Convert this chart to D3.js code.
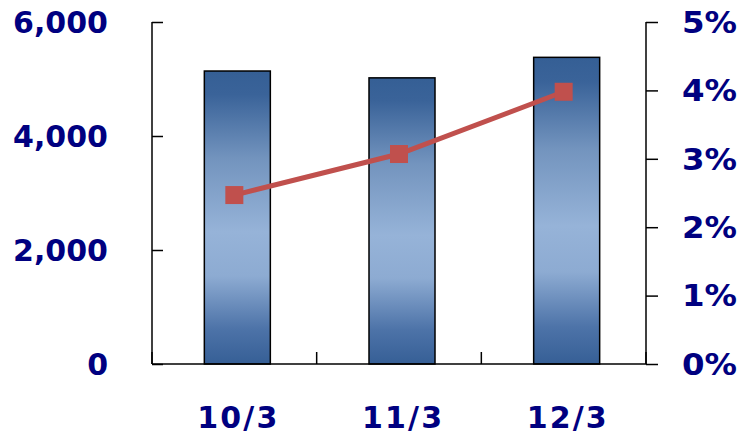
<!DOCTYPE html>
<html><head><meta charset="utf-8">
<script src="https://cdn.jsdelivr.net/npm/d3@7"></script>
<style>body{margin:0;background:#fff;}svg{display:block;}</style>
</head><body>
<script>
const categories = ["10/3", "11/3", "12/3"];
const barValues = [5140, 5020, 5380];
const lineValues = [2.47, 3.07, 3.98];
const leftTicks = [0, 2000, 4000, 6000];
const rightTicks = [0, 1, 2, 3, 4, 5];

const W = 742, H = 435;
const plotLeft = 152, plotRight = 646, plotTop = 22, plotBottom = 364;
const navy = "#000080";
const font = "'DejaVu Sans', Verdana, sans-serif";

const svg = d3.select("body").append("svg").attr("width", W).attr("height", H);

const x = d3.scaleBand().domain(categories).range([plotLeft, plotRight]).padding(0);
const yL = d3.scaleLinear().domain([0, 6000]).range([plotBottom, plotTop]);
const yR = d3.scaleLinear().domain([0, 5]).range([plotBottom, plotTop]);

const defs = svg.append("defs");
const g = defs.append("linearGradient").attr("id", "barGrad").attr("x1", 0).attr("y1", 0).attr("x2", 0).attr("y2", 1);
g.append("stop").attr("offset", "0%").attr("stop-color", "#355F95");
g.append("stop").attr("offset", "8%").attr("stop-color", "#3A6399");
g.append("stop").attr("offset", "30%").attr("stop-color", "#7394BE");
g.append("stop").attr("offset", "55%").attr("stop-color", "#96B3D8");
g.append("stop").attr("offset", "70%").attr("stop-color", "#8DABD2");
g.append("stop").attr("offset", "88%").attr("stop-color", "#4D73A8");
g.append("stop").attr("offset", "100%").attr("stop-color", "#365F96");

const barW = 66, barShift = 3;
svg.selectAll("rect.bar").data(categories).enter().append("rect")
  .attr("class", "bar")
  .attr("x", (d) => x(d) + x.bandwidth() / 2 - barW / 2 + barShift)
  .attr("y", (d, i) => yL(barValues[i]))
  .attr("width", barW)
  .attr("height", (d, i) => plotBottom - yL(barValues[i]))
  .attr("fill", "url(#barGrad)")
  .attr("stroke", "#000")
  .attr("stroke-width", 1.5);

// Left axis
const axL = svg.append("g").attr("transform", `translate(${plotLeft},0)`)
  .call(d3.axisRight(yL).tickValues(leftTicks).tickSize(11).tickFormat(""));
axL.select(".domain").remove();
axL.selectAll(".tick line").attr("stroke", "#000").attr("stroke-width", 1.5);
svg.append("line").attr("x1", plotLeft).attr("x2", plotLeft).attr("y1", plotTop).attr("y2", plotBottom)
  .attr("stroke", "#000").attr("stroke-width", 1.5);
svg.selectAll("text.yl").data(leftTicks).enter().append("text")
  .attr("class", "yl")
  .attr("x", 108).attr("y", (d) => yL(d))
  .attr("dy", "0.36em")
  .attr("text-anchor", "end")
  .attr("font-family", font).attr("font-weight", "bold").attr("font-size", 30)
  .attr("fill", navy)
  .text((d) => d3.format(",")(d));

// Right axis
const axR = svg.append("g").attr("transform", `translate(${plotRight},0)`)
  .call(d3.axisRight(yR).tickValues(rightTicks).tickSize(12).tickFormat(""));
axR.select(".domain").remove();
axR.selectAll(".tick line").attr("stroke", "#000").attr("stroke-width", 1.5);
svg.append("line").attr("x1", plotRight).attr("x2", plotRight).attr("y1", plotTop).attr("y2", plotBottom)
  .attr("stroke", "#000").attr("stroke-width", 1.5);
svg.selectAll("text.yr").data(rightTicks).enter().append("text")
  .attr("class", "yr")
  .attr("x", 682).attr("y", (d) => yR(d))
  .attr("dy", "0.36em")
  .attr("text-anchor", "start")
  .attr("font-family", font).attr("font-weight", "bold").attr("font-size", 30)
  .attr("textLength", 55).attr("lengthAdjust", "spacingAndGlyphs")
  .attr("fill", navy)
  .text((d) => d + "%");

// Bottom axis
const boundaries = categories.map((c) => x(c)).concat([plotRight]);
svg.selectAll("line.xt").data(boundaries).enter().append("line")
  .attr("class", "xt")
  .attr("x1", (d) => d).attr("x2", (d) => d)
  .attr("y1", plotBottom).attr("y2", plotBottom - 12)
  .attr("stroke", "#000").attr("stroke-width", 1.5);
svg.append("line").attr("x1", plotLeft).attr("x2", plotRight).attr("y1", plotBottom).attr("y2", plotBottom)
  .attr("stroke", "#000").attr("stroke-width", 1.5);
svg.selectAll("text.xl").data(categories).enter().append("text")
  .attr("class", "xl")
  .attr("x", (d) => x(d) + x.bandwidth() / 2 + barShift)
  .attr("y", 417).attr("dy", "0.36em")
  .attr("text-anchor", "middle")
  .attr("font-family", font).attr("font-weight", "bold").attr("font-size", 30)
  .attr("textLength", 80).attr("lengthAdjust", "spacing")
  .attr("fill", navy)
  .text((d) => d);

// Line
const red = "#C0504D";
const line = d3.line().x((d, i) => x(categories[i]) + x.bandwidth() / 2).y((d) => yR(d));
svg.append("path").datum(lineValues).attr("d", line)
  .attr("fill", "none").attr("stroke", red).attr("stroke-width", 5);
const ms = 18;
svg.selectAll("rect.mk").data(lineValues).enter().append("rect")
  .attr("class", "mk")
  .attr("x", (d, i) => x(categories[i]) + x.bandwidth() / 2 - ms / 2)
  .attr("y", (d) => yR(d) - ms / 2)
  .attr("width", ms).attr("height", ms)
  .attr("fill", red);
</script>
</body></html>
